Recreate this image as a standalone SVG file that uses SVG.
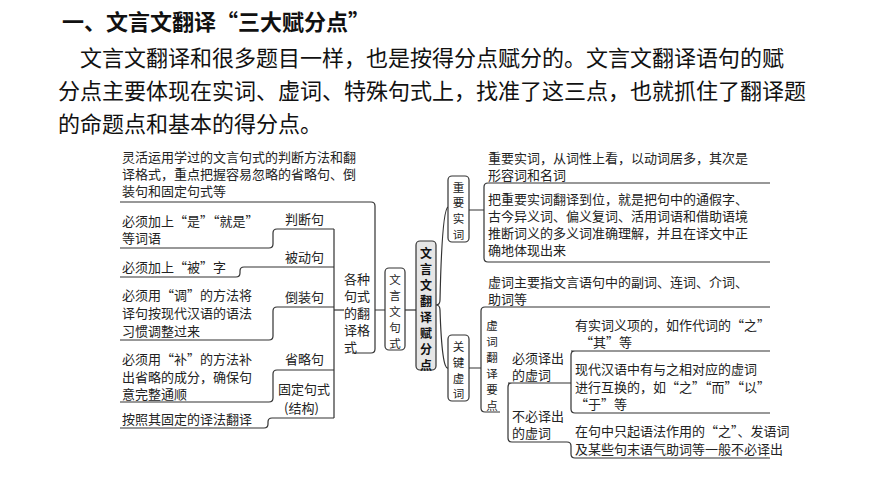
<svg xmlns="http://www.w3.org/2000/svg" width="870" height="489" viewBox="0 0 870 489">
<style>
.h{font-family:"Noto Sans CJK SC",sans-serif;font-size:22px;fill:#111}
.t{font-family:"Noto Sans CJK SC",sans-serif;font-size:13px;fill:#222}
.v{font-family:"Noto Sans CJK SC",sans-serif;font-size:11.5px;fill:#222}
.b{font-family:"Noto Sans CJK SC",sans-serif;font-size:12px;fill:#111;font-weight:bold}
.l{fill:none;stroke:#333;stroke-width:1.2}
.bx{fill:#fff;stroke:#333;stroke-width:1.2}
</style>
<rect width="870" height="489" fill="#fff"/>
<g id="title">
<text x="62" y="30" class="h" font-weight="bold">一、文言文翻译“三大赋分点”</text>
<text x="80" y="66" class="h">文言文翻译和很多题目一样，也是按得分点赋分的。文言文翻译语句的赋</text>
<text x="58" y="99" class="h">分点主要体现在实词、虚词、特殊句式上，找准了这三点，也就抓住了翻译题</text>
<text x="58" y="132" class="h">的命题点和基本的得分点。</text>
</g>
<g id="connectors">
<path class="l" d="M120 202H371Q375 202 375 206V349Q375 353 371 353H352M375 310H385"/>
<path class="l" d="M405 310H416"/>
<path class="l" d="M334 229V418M334 229H277Q273 229 273 233V244Q273 248 269 248H120"/>
<path class="l" d="M334 267H244Q240 267 240 271V273Q240 277 236 277H120"/>
<path class="l" d="M334 307H277Q273 307 273 311V336Q273 340 269 340H120"/>
<path class="l" d="M334 370H277Q273 370 273 374V398Q273 402 269 402H120"/>
<path class="l" d="M334 418H272Q268 418 268 422V424Q268 428 264 428H120"/>
<path class="l" d="M334 310H344"/>
<path class="l" d="M436 305Q440 305 440 300Q442 210 448 207M436 305Q440 305 440 310Q442 370 448 368"/>
<path class="l" d="M469 210H484M488 183H770M484 187Q484 183 488 183M484 187V258Q484 262 488 262H770"/>
<path class="l" d="M469 368H481M485 307H770M481 311Q481 307 485 307M481 311V408Q481 412 485 412H500"/>
<path class="l" d="M508 383H571M512 383Q508 383 508 387V438Q508 442 512 442H567Q571 442 571 446V454Q571 458 575 458H770"/>
<path class="l" d="M571 351H770M575 351Q571 351 571 355V409Q571 413 575 413H770"/>
</g>
<g id="n-root">
<rect x="416" y="241" width="20" height="129" rx="4" fill="#e6e6e6" stroke="#333" stroke-width="1.2"/>
<text class="b" text-anchor="middle"><tspan x="426" y="258">文</tspan><tspan x="426" y="274">言</tspan><tspan x="426" y="290">文</tspan><tspan x="426" y="306">翻</tspan><tspan x="426" y="322">译</tspan><tspan x="426" y="338">赋</tspan><tspan x="426" y="354">分</tspan><tspan x="426" y="370">点</tspan></text>
</g>
<g id="n-jushi">
<rect class="bx" x="385" y="268" width="20" height="82" rx="4"/>
<text class="v" text-anchor="middle"><tspan x="395" y="284">文</tspan><tspan x="395" y="300">言</tspan><tspan x="395" y="316">文</tspan><tspan x="395" y="332">句</tspan><tspan x="395" y="348">式</tspan></text>
</g>
<g id="n-gezhong">
<text class="t"><tspan x="344" y="284">各种</tspan><tspan x="344" y="301">句式</tspan><tspan x="344" y="318">的翻</tspan><tspan x="344" y="335">译格</tspan><tspan x="344" y="352">式</tspan></text>
</g>
<g id="n-left">
<text class="t"><tspan x="122" y="162">灵活运用学过的文言句式的判断方法和翻</tspan><tspan x="122" y="179">译格式，重点把握容易忽略的省略句、倒</tspan><tspan x="122" y="196">装句和固定句式等</tspan></text>
<text class="t" x="285" y="224">判断句</text>
<text class="t" x="285" y="262">被动句</text>
<text class="t" x="285" y="302">倒装句</text>
<text class="t" x="285" y="364">省略句</text>
<text class="t"><tspan x="278" y="394">固定句式</tspan><tspan x="284" y="413">(结构)</tspan></text>
<text class="t"><tspan x="122" y="226">必须加上“是”“就是”</tspan><tspan x="122" y="243">等词语</tspan></text>
<text class="t" x="122" y="272">必须加上“被”字</text>
<text class="t"><tspan x="122" y="300">必须用“调”的方法将</tspan><tspan x="122" y="318">译句按现代汉语的语法</tspan><tspan x="122" y="336">习惯调整过来</tspan></text>
<text class="t"><tspan x="122" y="364">必须用“补”的方法补</tspan><tspan x="122" y="382">出省略的成分，确保句</tspan><tspan x="122" y="399">意完整通顺</tspan></text>
<text class="t" x="122" y="424">按照其固定的译法翻译</text>
</g>
<g id="n-shici">
<rect class="bx" x="448" y="176" width="21" height="66" rx="4"/>
<text class="v" text-anchor="middle"><tspan x="458.500" y="192">重</tspan><tspan x="458.500" y="207">要</tspan><tspan x="458.500" y="223">实</tspan><tspan x="458.500" y="239">词</tspan></text>
<text class="t"><tspan x="488" y="163">重要实词，从词性上看，以动词居多，其次是</tspan><tspan x="488" y="180">形容词和名词</tspan></text>
<text class="t"><tspan x="488" y="204">把重要实词翻译到位，就是把句中的通假字、</tspan><tspan x="488" y="221">古今异义词、偏义复词、活用词语和借助语境</tspan><tspan x="488" y="238">推断词义的多义词准确理解，并且在译文中正</tspan><tspan x="488" y="255">确地体现出来</tspan></text>
</g>
<g id="n-xuci">
<rect class="bx" x="448" y="335" width="21" height="66" rx="4"/>
<text class="v" text-anchor="middle"><tspan x="458.500" y="351">关</tspan><tspan x="458.500" y="367">键</tspan><tspan x="458.500" y="383">虚</tspan><tspan x="458.500" y="398">词</tspan></text>
<text class="t"><tspan x="488" y="287">虚词主要指文言语句中的副词、连词、介词、</tspan><tspan x="488" y="304">助词等</tspan></text>
<text class="v" text-anchor="middle"><tspan x="492" y="330">虚</tspan><tspan x="492" y="346">词</tspan><tspan x="492" y="362">翻</tspan><tspan x="492" y="378">译</tspan><tspan x="492" y="394">要</tspan><tspan x="492" y="410">点</tspan></text>
<text class="t"><tspan x="512" y="363">必须译出</tspan><tspan x="512" y="380">的虚词</tspan></text>
<text class="t"><tspan x="512" y="421">不必译出</tspan><tspan x="512" y="438">的虚词</tspan></text>
<text class="t"><tspan x="575" y="330">有实词义项的，如作代词的“之”</tspan><tspan x="580" y="347">“其”等</tspan></text>
<text class="t"><tspan x="575" y="374">现代汉语中有与之相对应的虚词</tspan><tspan x="575" y="392">进行互换的，如“之”“而”“以”</tspan><tspan x="575" y="409">“于”等</tspan></text>
<text class="t"><tspan x="575" y="436">在句中只起语法作用的“之”、发语词</tspan><tspan x="575" y="454">及某些句末语气助词等一般不必译出</tspan></text>
</g>
</svg>
